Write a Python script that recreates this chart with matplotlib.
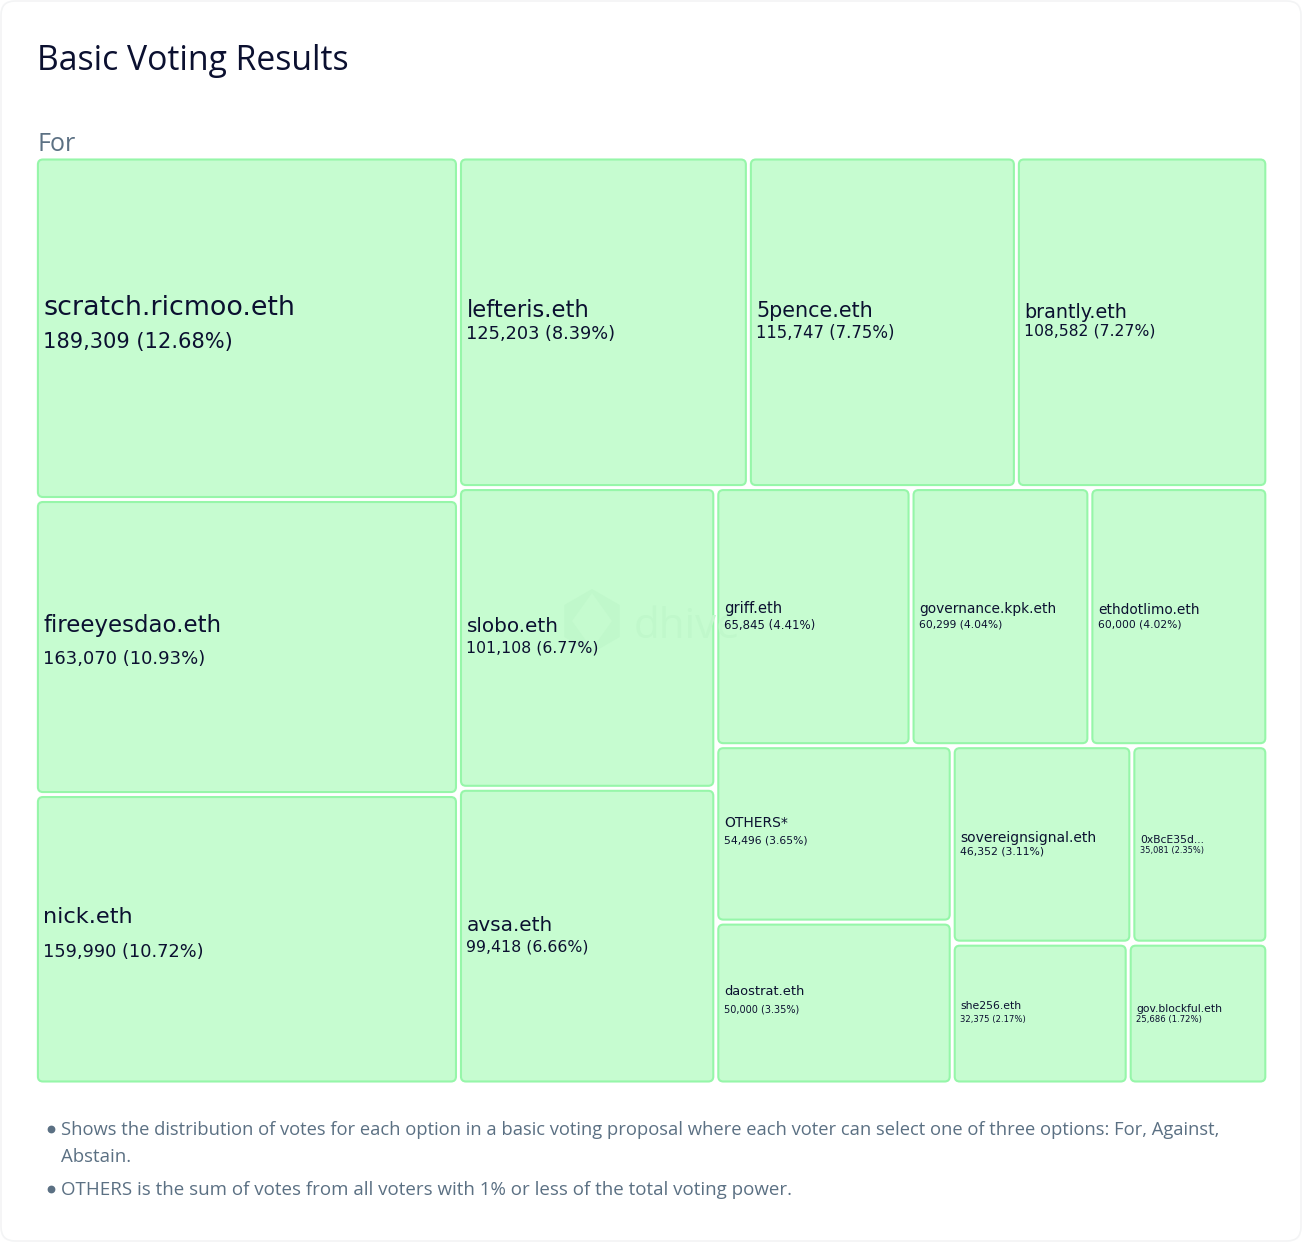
import matplotlib
matplotlib.use('Agg')
import matplotlib.pyplot as plt
from matplotlib.patches import FancyBboxPatch, RegularPolygon, Polygon

W, H = 1302, 1243

# votes per delegate
names = ['scratch.ricmoo.eth', 'fireeyesdao.eth', 'nick.eth',
         'lefteris.eth', '5pence.eth', 'brantly.eth',
         'slobo.eth', 'avsa.eth',
         'griff.eth', 'governance.kpk.eth', 'ethdotlimo.eth',
         'OTHERS*', 'daostrat.eth',
         'sovereignsignal.eth', '0xBcE35d...',
         'she256.eth', 'gov.blockful.eth']
votes = [189309, 163070, 159990,
         125203, 115747, 108582,
         101108, 99418,
         65845, 60299, 60000,
         54496, 50000,
         46352, 35081,
         32375, 25686]
shares = ['12.68%', '10.93%', '10.72%',
          '8.39%', '7.75%', '7.27%',
          '6.77%', '6.66%',
          '4.41%', '4.04%', '4.02%',
          '3.65%', '3.35%',
          '3.11%', '2.35%',
          '2.17%', '1.72%']

# how the treemap nests: tuple = split, h/v = direction of the split
tree = ('h', [('v', [0, 1, 2]),
              ('v', [('h', [3, 4, 5]),
                     ('h', [('v', [6, 7]),
                            ('v', [('h', [8, 9, 10]),
                                   ('h', [('v', [11, 12]),
                                          ('v', [('h', [13, 14]),
                                                 ('h', [15, 16])])])])])])])

# label styling per box (px)
name_px = [26.9, 22.9, 22.5, 22.7, 20.7, 19.2, 20.0, 20, 14.8, 13.8, 13.7, 13.9, 13.0, 13.9, 10.8, 10.9, 10.7]
value_px = [21, 18, 17.7, 17.7, 16.5, 15.6, 15.7, 15.7, 11.8, 10.8, 10.8, 10.7, 9.8, 10.9, 8.3, 8.5, 8.5]
name_dy = [-23, -24, -24, -14, -13, -12, -13, -13, -10, -9, -8, -12, -13, -8, -5, -9, -6]
value_dy = [12, 10, 11, 10, 9, 7, 9, 9, 7, 7, 7, 6, 5, 6, 5, 5, 5]

FILL = '#c6fcd0'
EDGE = '#96f6a9'
DARK = '#0b1030'
GREY = '#5b7083'
MARK = '#c0f8cb'
UI_FONT = ['Open Sans', 'DejaVu Sans']

plt.rcParams['font.family'] = ['DejaVu Sans']


def px(size):
    return size * 72 / 100


def total(node):
    if isinstance(node, int):
        return votes[node]
    return sum(total(c) for c in node[1])


def layout(node, x, y, w, h, out):
    if isinstance(node, int):
        out[node] = (x, y, w, h)
        return
    pos = 0
    all_votes = total(node)
    for child in node[1]:
        frac = total(child) / all_votes
        if node[0] == 'h':
            layout(child, x + pos * w, y, frac * w, h, out)
        else:
            layout(child, x, y + pos * h, w, frac * h, out)
        pos += frac


fig = plt.figure(figsize=(W / 100, H / 100), dpi=100, facecolor='white')
ax = fig.add_axes([0, 0, 1, 1])
ax.set_xlim(0, W)
ax.set_ylim(H, 0)
ax.axis('off')

# card
ax.add_patch(FancyBboxPatch((1, 1), W - 2, H - 3, boxstyle='round,pad=0,rounding_size=14',
                            fc='white', ec='#f3f4f5', lw=1.2))

ax.text(37, 70, 'Basic Voting Results', fontsize=px(33.8), color=DARK, family=UI_FONT, va='baseline')
ax.text(37, 151, 'For', fontsize=px(25), color=GREY, family=UI_FONT, va='baseline')

boxes = {}
layout(tree, 35.4, 157, 1232.4, 927, boxes)
for i, (x, y, w, h) in boxes.items():
    ax.add_patch(FancyBboxPatch((x + 2.5, y + 2.5), w - 5, h - 5,
                                boxstyle='round,pad=0,rounding_size=5',
                                fc=FILL, ec=EDGE, lw=1.5, zorder=2))

# watermark
ax.add_patch(RegularPolygon((592, 621), 6, radius=32, fc=MARK, ec='none', zorder=3))
ax.add_patch(Polygon([(592, 593), (612, 621), (592, 649), (572, 621)], fc='#c5fbcf', ec='none', zorder=3))
ax.text(634, 638, 'dhive', fontsize=px(42), color=MARK, family=UI_FONT, va='baseline', zorder=3)

for i, (x, y, w, h) in boxes.items():
    left = x + 8
    mid = y + h / 2
    ax.text(left, mid + name_dy[i], names[i], fontsize=px(name_px[i]), color=DARK,
            va='center_baseline', zorder=4)
    label = f'{votes[i]:,} ({shares[i]})'
    ax.text(left, mid + value_dy[i], label, fontsize=px(value_px[i]), color=DARK,
            va='center_baseline', zorder=4)

# notes
notes = [(1128, 18.38, 'Shows the distribution of votes for each option in a basic voting proposal where each voter can select one of three options: For, Against,'),
         (1155, 18.6, 'Abstain.'),
         (1188, 18.73, 'OTHERS is the sum of votes from all voters with 1% or less of the total voting power.')]
for y, size, line in notes:
    ax.text(61, y + 7, line, fontsize=px(size), color=GREY, family=UI_FONT, va='baseline')
ax.plot([51, 51], [1129, 1189], ls='none', marker='o', ms=4.6, color=GREY)

fig.savefig('out.png', dpi=100)
